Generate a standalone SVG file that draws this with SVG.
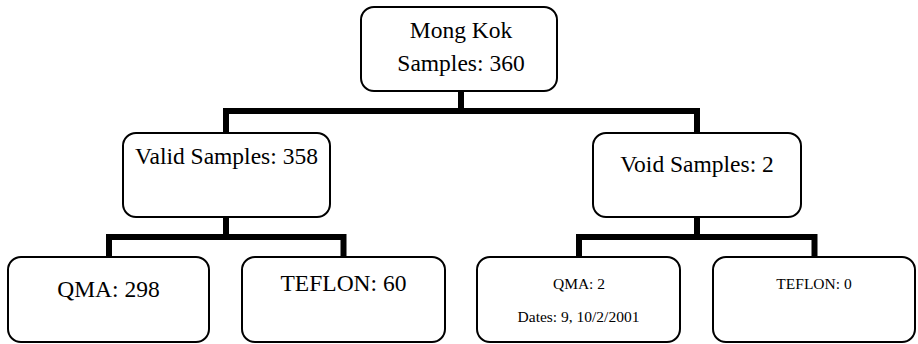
<svg xmlns="http://www.w3.org/2000/svg" width="918" height="344" viewBox="0 0 918 344">
<style>
.box{fill:#fff;stroke:#000;stroke-width:2}
.conn{fill:none;stroke:#000;stroke-width:6;stroke-linecap:butt;stroke-linejoin:miter}
text{font-family:"Liberation Serif","Times New Roman",serif;fill:#000;text-anchor:middle}
.big{font-size:23.5px}
.small{font-size:15.5px}
</style>
<rect width="918" height="344" fill="#fff"/>
<g id="connectors">
<path class="conn" d="M461,91 V111 M226,133 V111 H697 V133"/>
<path class="conn" d="M226,217 V237 M109,257 V237 H343.5 V257"/>
<path class="conn" d="M697,217 V237 M579,257 V237 H814.5 V257"/>
</g>
<g id="root">
<rect class="box" x="361" y="7" width="196" height="84" rx="13"/>
<text class="big" x="461" y="38">Mong Kok</text>
<text class="big" x="461" y="71">Samples: 360</text>
</g>
<g id="valid">
<rect class="box" x="123" y="133" width="207" height="84" rx="13"/>
<text class="big" x="226.5" y="164">Valid Samples: 358</text>
</g>
<g id="void">
<rect class="box" x="593" y="133" width="208" height="84" rx="13"/>
<text class="big" x="697" y="172">Void Samples: 2</text>
</g>
<g id="qma-valid">
<rect class="box" x="8" y="257" width="201" height="85" rx="13"/>
<text class="big" x="108.5" y="297">QMA: 298</text>
</g>
<g id="teflon-valid">
<rect class="box" x="242" y="257" width="203" height="85" rx="13"/>
<text class="big" x="343.5" y="291">TEFLON: 60</text>
</g>
<g id="qma-void">
<rect class="box" x="477" y="257" width="203" height="85" rx="13"/>
<text class="small" x="579" y="289">QMA: 2</text>
<text class="small" x="578.5" y="322">Dates: 9, 10/2/2001</text>
</g>
<g id="teflon-void">
<rect class="box" x="713" y="257" width="202" height="85" rx="13"/>
<text class="small" x="814" y="289">TEFLON: 0</text>
</g>
</svg>
